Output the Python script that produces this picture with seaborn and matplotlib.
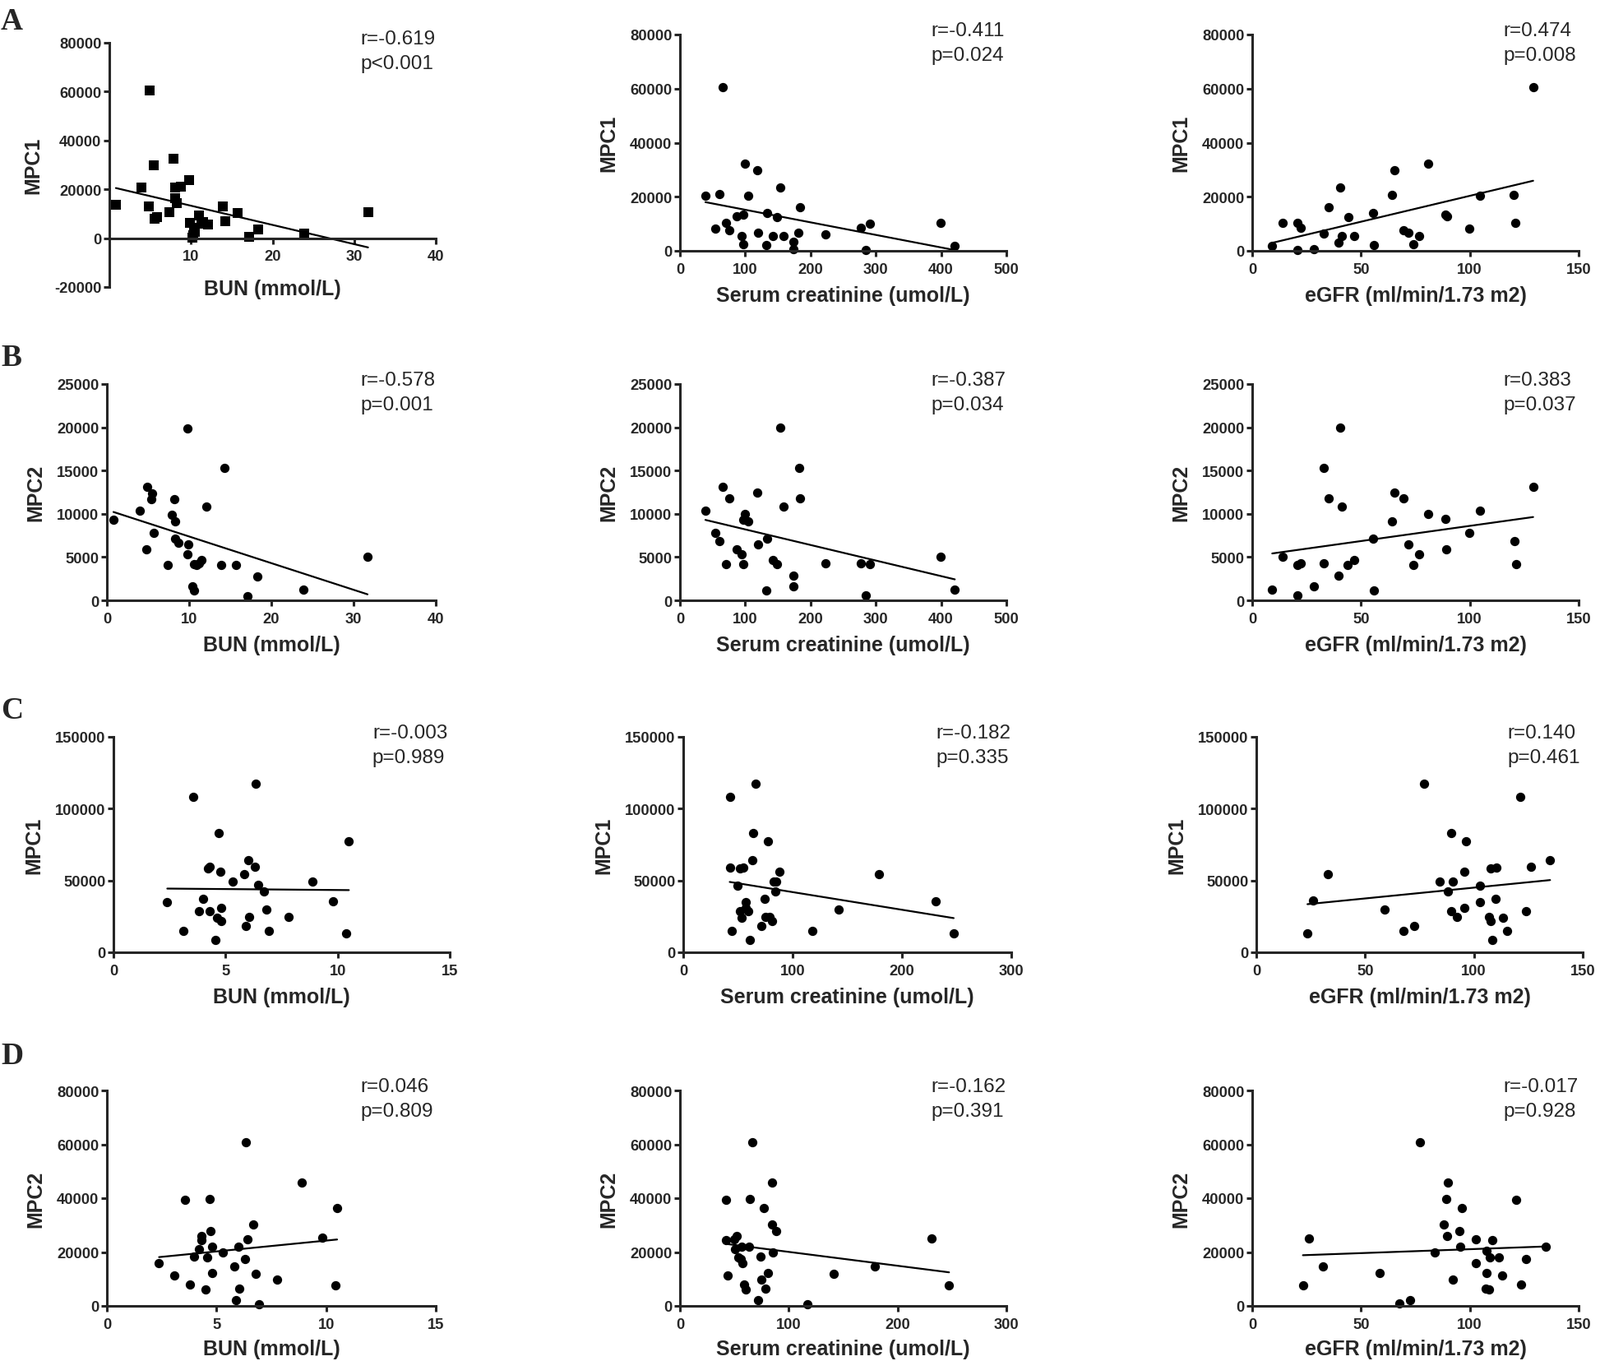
import numpy as np
import matplotlib
matplotlib.use("Agg")
import matplotlib.pyplot as plt
import seaborn as sns

sns.set_style("ticks")
plt.rcParams["font.family"] = ["Liberation Sans", "DejaVu Sans"]
plt.rcParams["font.weight"] = "bold"
plt.rcParams["axes.labelweight"] = "bold"

# ---------------- data ----------------
# Row A: cohort 1, MPC1
A1_bun = [0.8, 3.9, 4.8, 4.9, 5.4, 5.5, 5.8, 7.4, 7.9, 8.1, 8.1, 8.3, 8.8, 9.8, 9.9,
          10.2, 10.3, 10.4, 10.5, 11.0, 11.3, 11.5, 12.1, 13.9, 14.2, 15.7, 17.1, 18.2, 23.9, 31.7]
A1_mpc1 = [13700, 20600, 13100, 60400, 29900, 8100, 8600, 10500, 32400, 20600, 16500, 14200, 21000, 23800, 6400,
           200, 1300, 4100, 2500, 9200, 5800, 6500, 5600, 13100, 6900, 10300, 400, 3600, 1900, 10500]

A2_scr = [39, 60, 65, 54, 70, 75, 87, 97, 99, 94, 97, 104, 118, 120, 132,
          133, 142, 148, 154, 159, 174, 174, 181, 184, 223, 277, 291, 285, 399, 421]
A2_mpc1 = [20300, 21000, 60500, 8100, 10400, 7500, 12700, 13400, 32200, 5600, 2500, 20500, 29700, 6800, 2200,
           13900, 5600, 12600, 23500, 5500, 3300, 500, 6600, 16200, 6200, 8600, 10100, 200, 10400, 1900]

A3_egfr = [9.2, 14.1, 20.8, 22.2, 20.9, 28.3, 32.9, 35.0, 39.5, 40.5, 41.3, 44.2, 46.9, 55.4, 56.0,
           64.4, 65.4, 69.5, 71.8, 74.1, 76.7, 80.8, 88.7, 89.5, 99.6, 104.7, 120.3, 120.9, 129.1]
A3_mpc1 = [1900, 10400, 10200, 8600, 200, 700, 6500, 16200, 3000, 23500, 5600, 12600, 5500, 13900, 2200,
           20700, 29700, 7600, 6800, 2400, 5600, 32200, 13400, 12700, 8100, 20300, 20800, 10200, 60500]

# Row B: cohort 1, MPC2
B1_bun = [0.8, 4.0, 4.8, 4.9, 5.5, 5.4, 5.7, 7.4, 7.9, 8.2, 8.3, 8.3, 8.7, 9.8, 9.9,
          9.8, 10.4, 10.6, 10.6, 10.9, 11.2, 11.5, 12.1, 13.9, 14.3, 15.7, 17.1, 18.3, 23.9, 31.7]
B1_mpc2 = [9350, 10360, 5900, 13100, 12400, 11700, 7800, 4100, 9900, 11700, 9100, 7100, 6700, 19900, 6500,
           5300, 1650, 1100, 4200, 4100, 4300, 4700, 10800, 4100, 15300, 4100, 450, 2800, 1200, 5000]

B2_scr = [39, 54, 60, 65, 70, 75, 87, 94, 97, 99, 97, 105, 118, 120, 132,
          133, 142, 148, 154, 159, 174, 174, 182, 184, 223, 277, 291, 285, 399, 421]
B2_mpc2 = [10400, 7800, 6800, 13100, 4200, 11800, 5900, 5350, 9350, 10000, 4200, 9150, 12500, 6500, 1100,
           7100, 4650, 4200, 20000, 10800, 1650, 2850, 15300, 11800, 4300, 4300, 4200, 550, 5000, 1250]

B3_egfr = [9.2, 14.1, 20.8, 22.2, 20.9, 28.3, 32.7, 32.7, 35.0, 39.5, 40.5, 41.3, 44.0, 46.9, 55.4,
           56.0, 64.4, 65.4, 69.5, 71.8, 74.0, 76.7, 80.8, 88.7, 89.1, 99.6, 104.7, 120.5, 121.2, 129.1]
B3_mpc2 = [1250, 5000, 4100, 4300, 550, 1650, 4300, 15300, 11800, 2850, 20000, 10800, 4100, 4650, 7100,
           1100, 9150, 12500, 11800, 6500, 4100, 5350, 10000, 9400, 5900, 7800, 10400, 6800, 4200, 13100]

# Row C: cohort 2, MPC1
C1_bun = [2.4, 3.1, 3.57, 3.8, 4.0, 4.2, 4.3, 4.3, 4.54, 4.63, 4.7, 4.77, 4.81, 4.81, 5.3,
          5.84, 5.9, 6.0, 6.04, 6.3, 6.34, 6.44, 6.72, 6.81, 6.92, 7.81, 8.88, 9.79, 10.39, 10.5]
C1_mpc1 = [35200, 14800, 108100, 28700, 37300, 58600, 59600, 28700, 8800, 23800, 83000, 56300, 31000, 21900, 49500,
           54400, 18300, 64000, 24700, 59600, 117300, 46800, 42500, 29700, 14800, 24900, 49500, 35400, 12900, 77100]

C2_scr = [42.5, 42.5, 44.3, 49.4, 51.9, 54.9, 51.9, 53.2, 57.0, 57.0, 59.5, 60.8, 63.3, 63.8, 66.3,
          71.6, 74.2, 75.2, 77.2, 79.2, 81.0, 84.3, 85.3, 83.0, 88.1, 117.7, 141.8, 179.0, 231.1, 247.3]
C2_mpc1 = [108100, 59200, 14800, 46300, 58300, 59200, 28700, 24000, 35200, 31000, 28700, 8600, 64000, 83000, 117300,
           18300, 37300, 24700, 77100, 24400, 21900, 42500, 49500, 49000, 56300, 14800, 29700, 54300, 35400, 12900]

C3_egfr = [23.5, 25.9, 32.7, 59.0, 67.7, 72.4, 76.9, 84.2, 88.1, 89.4, 89.5, 90.4, 92.3, 95.5, 95.5,
           96.4, 102.6, 102.8, 107.1, 107.7, 107.7, 108.6, 110.3, 109.9, 113.2, 115.1, 121.2, 124.1, 126.3, 135.0]
C3_mpc1 = [12900, 35800, 54300, 29700, 14800, 18300, 117300, 49500, 42500, 83000, 28700, 49500, 24700, 56300, 31000,
           77100, 46300, 35200, 24400, 21900, 58300, 8600, 59200, 37300, 24000, 14800, 108100, 28700, 59600, 64000]

# Row D: cohort 2, MPC2
D1_bun = [2.38, 3.09, 3.56, 3.79, 3.99, 4.19, 4.3, 4.3, 4.5, 4.59, 4.68, 4.74, 4.79, 4.79, 5.3,
          5.82, 5.89, 6.0, 6.02, 6.29, 6.33, 6.42, 6.69, 6.8, 6.93, 7.77, 8.87, 9.81, 10.41, 10.5]
D1_mpc2 = [16000, 11400, 39300, 7800, 18200, 21000, 26100, 24300, 6000, 18000, 39600, 27900, 22100, 12200, 20000,
           14700, 2200, 22100, 6300, 17500, 60700, 24600, 30200, 11900, 700, 9900, 45900, 25300, 7600, 36300]

D2_scr = [42.4, 42.4, 43.9, 49.5, 52.0, 50.7, 53.3, 56.6, 57.1, 58.8, 60.8, 63.4, 63.9, 66.4, 72.0,
          74.1, 74.8, 76.8, 78.6, 80.6, 84.5, 85.0, 85.7, 88.3, 117.4, 141.5, 179.3, 231.5, 247.3, 56.0]
D2_mpc2 = [39300, 24300, 11400, 24600, 26100, 21000, 18000, 22100, 16000, 8000, 6000, 22100, 39600, 60700, 2200,
           18200, 9900, 36300, 6300, 12200, 30200, 45900, 20000, 27900, 700, 11900, 14700, 24900, 7600, 17500]

D3_egfr = [23.3, 25.9, 32.4, 58.7, 67.7, 72.4, 76.9, 84.0, 88.1, 89.1, 89.4, 90.0, 92.3, 95.1, 95.5,
           96.2, 102.6, 102.8, 107.7, 107.4, 107.7, 108.7, 109.2, 110.3, 113.2, 115.0, 121.2, 123.7, 126.0, 134.9]
D3_mpc2 = [7600, 24900, 14700, 12100, 900, 2200, 60700, 20000, 30200, 39600, 26100, 45700, 9900, 27900, 22100,
           36300, 24600, 16000, 20500, 6300, 12100, 6000, 18000, 24300, 18000, 11400, 39300, 7800, 17500, 22100]

# statistics text
stats_r = ["-0.619", "-0.411", "0.474", "-0.578", "-0.387", "0.383",
           "-0.003", "-0.182", "0.140", "0.046", "-0.162", "-0.017"]
stats_p = ["p<0.001", "p=0.024", "p=0.008", "p=0.001", "p=0.034", "p=0.037",
           "p=0.989", "p=0.335", "p=0.461", "p=0.809", "p=0.391", "p=0.928"]

xlabels = ["BUN (mmol/L)", "Serum creatinine (umol/L)", "eGFR (ml/min/1.73 m2)"]
row_ylabels = ["MPC1", "MPC2", "MPC1", "MPC2"]
row_letters = ["A", "B", "C", "D"]

xs = [A1_bun, A2_scr, A3_egfr, B1_bun, B2_scr, B3_egfr,
      C1_bun, C2_scr, C3_egfr, D1_bun, D2_scr, D3_egfr]
ys = [A1_mpc1, A2_mpc1, A3_mpc1, B1_mpc2, B2_mpc2, B3_mpc2,
      C1_mpc1, C2_mpc1, C3_mpc1, D1_mpc2, D2_mpc2, D3_mpc2]

xlim_rows = [[(0, 40), (0, 500), (0, 150)],
             [(0, 40), (0, 500), (0, 150)],
             [(0, 15), (0, 300), (0, 150)],
             [(0, 15), (0, 300), (0, 150)]]
xtick_rows = [[[10, 20, 30, 40], np.arange(0, 501, 100), np.arange(0, 151, 50)],
              [np.arange(0, 41, 10), np.arange(0, 501, 100), np.arange(0, 151, 50)],
              [np.arange(0, 16, 5), np.arange(0, 301, 100), np.arange(0, 151, 50)],
              [np.arange(0, 16, 5), np.arange(0, 301, 100), np.arange(0, 151, 50)]]
ylim_panels = [(-20000, 80000), (0, 80000), (0, 80000)] + [(0, 25000)] * 3 + \
              [(0, 150000)] * 3 + [(0, 80000)] * 3
ytick_panels = [np.arange(-20000, 80001, 20000), np.arange(0, 80001, 20000), np.arange(0, 80001, 20000)] + \
               [np.arange(0, 25001, 5000)] * 3 + [np.arange(0, 150001, 50000)] * 3 + \
               [np.arange(0, 80001, 20000)] * 3

# ---------------- layout (pixels) ----------------
W, H = 1946, 1656
boxes = [(133, 53, 530, 350), (827, 43, 1224, 306), (1523, 43, 1920, 306),
         (130, 468, 530, 731), (827, 468, 1224, 731), (1523, 468, 1920, 731),
         (138, 897, 547, 1159), (831, 897, 1230, 1159), (1528, 897, 1925, 1159),
         (130, 1327, 530, 1589), (827, 1327, 1224, 1589), (1523, 1327, 1920, 1589)]
letter_baselines = [36, 445, 874, 1294]
xlabel_pads = [13, 8, 8, 8, 8, 8, 8, 8, 8, 6.5, 6.5, 6.5]

fig = plt.figure(figsize=(W / 100, H / 100), dpi=100)
fig.patch.set_facecolor("white")

for i in range(12):
    row, col = divmod(i, 3)
    l, t, r, b = boxes[i]
    ax = fig.add_axes([l / W, 1 - b / H, (r - l) / W, (b - t) / H])
    marker = "s" if i == 0 else "o"
    sns.regplot(x=np.asarray(xs[i], float), y=np.asarray(ys[i], float), ax=ax, ci=None,
                marker=marker, color="black",
                scatter_kws={"s": 66, "linewidths": 0, "clip_on": False, "alpha": 1},
                line_kws={"lw": 1.6, "color": "black"})
    ax.set_xlim(*xlim_rows[row][col])
    ax.set_ylim(*ylim_panels[i])
    ax.set_xticks(xtick_rows[row][col])
    ax.set_yticks(ytick_panels[i])
    ax.set_xticklabels([str(int(v)) for v in xtick_rows[row][col]])
    ax.set_yticklabels([str(int(v)) for v in ytick_panels[i]])
    for s in ["top", "right"]:
        ax.spines[s].set_visible(False)
    for s in ["left", "bottom"]:
        ax.spines[s].set_linewidth(2.2)
    if ylim_panels[i][0] < 0:
        ax.spines["bottom"].set_position(("data", 0))
    ax.tick_params(axis="both", width=2.2, length=5, labelsize=13.2, direction="out")
    ax.tick_params(axis="y", pad=2)
    ax.tick_params(axis="x", pad=5)
    ax.set_xlabel(xlabels[col], fontsize=18, labelpad=xlabel_pads[i])
    ax.set_ylabel(row_ylabels[row], fontsize=18, labelpad=10)
    ax.annotate("r=" + stats_r[i] + "\n" + stats_p[i], xy=(0.77, 1.0), xycoords="axes fraction",
                xytext=(0, 16), textcoords="offset pixels", ha="left", va="top",
                fontsize=17.5, fontweight="normal", linespacing=1.45,
                family=["Liberation Sans", "DejaVu Sans"],
                annotation_clip=False)

for k in range(4):
    fig.text(1 / W, 1 - letter_baselines[k] / H, row_letters[k], ha="left", va="baseline",
             fontsize=27, fontweight="bold", family=["Liberation Serif", "DejaVu Serif"])

fig.savefig("out.png", dpi=100, facecolor="white")
